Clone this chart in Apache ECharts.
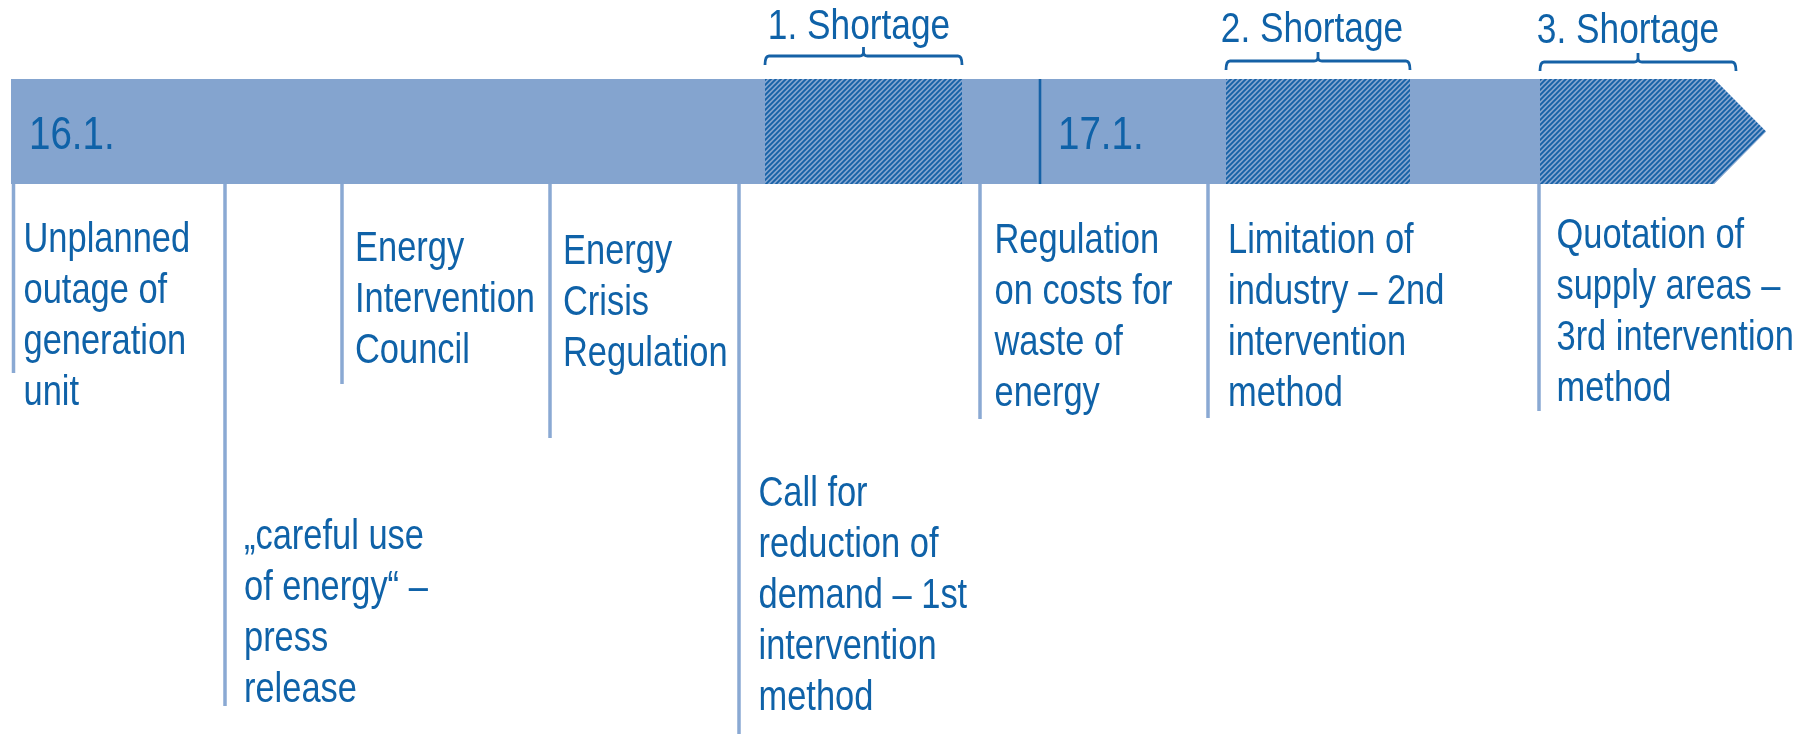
<!DOCTYPE html>
<html><head><meta charset="utf-8">
<script src="https://cdn.jsdelivr.net/npm/echarts@6/dist/echarts.min.js"></script>
<style>html,body{margin:0;padding:0;background:#fff}#c{width:1808px;height:734px}</style>
</head><body><div id="c"></div>
<script>
// ---- data (timeline position units on x, depth units on y) ----
const barSpan = [11, 1714, 1766];          // start, arrow taper start, arrow tip
const barBand = [79, 184];                 // top, bottom of the time band
const dayLabels = ['16.1.', '17.1.'];
const dayLabelX = [29, 1058];
const dayLabelTop = [113, 113];
const dayLineX = [1040];
const shortageLabels = ['1. Shortage', '2. Shortage', '3. Shortage'];
const shortageStart = [765, 1226, 1540];
const shortageEnd = [962, 1410, 1766];
const shortageBracketEnd = [962, 1410, 1736];
const shortageBracketY = [56, 61, 62];
const shortageLabelX = [859, 1312, 1628];
const shortageLabelTop = [2, 5, 6];
const eventX = [13.5, 225, 342, 550, 739, 980, 1208, 1539];
const eventLineEnd = [373, 706, 384, 438, 740, 419, 418, 411];
const eventTextX = [23.5, 244, 355, 563, 758.5, 994.5, 1228, 1556.5];
const eventTextTop = [215, 512, 224, 227, 469, 216, 216, 211];
const eventTexts = [
  'Unplanned\noutage of\ngeneration\nunit',
  '\u201Ecareful use\nof energy\u201C \u2013\npress\nrelease',
  'Energy\nIntervention\nCouncil',
  'Energy\nCrisis\nRegulation',
  'Call for\nreduction of\ndemand \u2013 1st\nintervention\nmethod',
  'Regulation\non costs for\nwaste of\nenergy',
  'Limitation of\nindustry \u2013 2nd\nintervention\nmethod',
  'Quotation of\nsupply areas \u2013\n3rd intervention\nmethod'
];

// ---- styles ----
const LIGHT = '#84a4cf';
const TICK = '#8aa9d3';
const DARK = '#1561a6';
const TEXT = '#0f62a8';
const FONT = "'Liberation Sans',Arial,sans-serif";
const NARROW = 0.82;   // condensed look

function hatchTile() {
  const s = 5, c = document.createElement('canvas');
  c.width = c.height = s;
  const g = c.getContext('2d');
  g.fillStyle = LIGHT; g.fillRect(0, 0, s, s);
  g.strokeStyle = DARK; g.lineWidth = 1.9;
  g.beginPath();
  g.moveTo(-1, s + 1); g.lineTo(s + 1, -1);
  g.moveTo(-2, 2); g.lineTo(2, -2);
  g.moveTo(s - 2, s + 2); g.lineTo(s + 2, s - 2);
  g.stroke();
  return c;
}
const HATCH = { image: hatchTile(), repeat: 'repeat' };

function arrowPoints(a, b) {
  const [top, bot] = barBand, T = barSpan[1], P = barSpan[2], M = (top + bot) / 2;
  const pts = [[a, top], [Math.min(b, T), top]];
  if (b > T) {
    const f = (b - T) / (P - T);
    pts.push([b, top + (M - top) * f], [b, bot - (bot - M) * f]);
  }
  pts.push([Math.min(b, T), bot], [a, bot]);
  return pts;
}

function txt(pt, text, size, lh, align) {
  return {
    type: 'text', x: pt[0], y: pt[1], scaleX: NARROW,
    style: { text, fontSize: size, fontFamily: FONT, lineHeight: lh, fill: TEXT, align, verticalAlign: 'top' }
  };
}

const chart = echarts.init(document.getElementById('c'), null, { renderer: 'canvas' });
chart.setOption({
  animation: false,
  grid: { left: 0, right: 0, top: 0, bottom: 0 },
  xAxis: { type: 'value', min: 0, max: 1808, show: false },
  yAxis: { type: 'value', min: 0, max: 734, inverse: true, show: false },
  series: [
    { // main band with arrow
      type: 'custom', clip: false, silent: true,
      data: [[barSpan[0], barSpan[2]]],
      renderItem: (p, api) => ({
        type: 'polygon',
        shape: { points: arrowPoints(api.value(0), api.value(1)).map(q => api.coord(q)) },
        style: { fill: LIGHT }
      })
    },
    { // shortage periods (hatched) + brackets + labels
      type: 'custom', clip: false, silent: true,
      data: shortageLabels.map((l, i) => [shortageStart[i], shortageEnd[i], shortageBracketEnd[i], shortageBracketY[i], shortageLabelX[i], shortageLabelTop[i], i]),
      renderItem: (p, api) => {
        const a = api.value(0), b = api.value(1), be = api.value(2), by = api.value(3);
        const [x0, yh] = api.coord([a, by]);
        const [x1] = api.coord([be, by]);
        const xc = (x0 + x1) / 2, r = 4, h = 9;
        const path = `M${x0} ${yh + h} Q${x0} ${yh} ${x0 + r} ${yh} L${xc - r} ${yh} Q${xc} ${yh} ${xc} ${yh - r} L${xc} ${yh - h} M${xc} ${yh - r} Q${xc} ${yh} ${xc + r} ${yh} L${x1 - r} ${yh} Q${x1} ${yh} ${x1} ${yh + h}`;
        const lp = api.coord([api.value(4), api.value(5)]);
        return {
          type: 'group', children: [
            { type: 'polygon', shape: { points: arrowPoints(a, b).map(q => api.coord(q)) }, style: { fill: HATCH } },
            { type: 'path', shape: { pathData: path }, style: { fill: null, stroke: DARK, lineWidth: 2.8 } },
            txt(lp, shortageLabels[api.value(6)], 43, 51, 'center')
          ]
        };
      }
    },
    { // day labels and day divider
      type: 'custom', clip: false, silent: true,
      data: dayLabels.map((d, i) => [dayLabelX[i], dayLabelTop[i], i]),
      renderItem: (p, api) => {
        const i = api.value(2);
        const pt = api.coord([api.value(0), api.value(1)]);
        const children = [txt(pt, dayLabels[i], 47, 46, 'left')];
        if (i > 0) {
          const t = api.coord([dayLineX[i - 1], barBand[0]]), b = api.coord([dayLineX[i - 1], barBand[1]]);
          children.push({ type: 'line', shape: { x1: t[0], y1: t[1], x2: b[0], y2: b[1] }, style: { stroke: DARK, lineWidth: 2.6 } });
        }
        return { type: 'group', children };
      }
    },
    { // events: ticks and descriptions
      type: 'custom', clip: false, silent: true,
      data: eventX.map((x, i) => [x, eventLineEnd[i], eventTextX[i], eventTextTop[i], i]),
      renderItem: (p, api) => {
        const s = api.coord([api.value(0), barBand[1]]);
        const e = api.coord([api.value(0), api.value(1)]);
        const t = api.coord([api.value(2), api.value(3)]);
        return {
          type: 'group', children: [
            { type: 'line', shape: { x1: s[0], y1: s[1], x2: e[0], y2: e[1] }, style: { stroke: TICK, lineWidth: 3.5 } },
            txt(t, eventTexts[api.value(4)], 42, 51, 'left')
          ]
        };
      }
    }
  ]
});
</script></body></html>
